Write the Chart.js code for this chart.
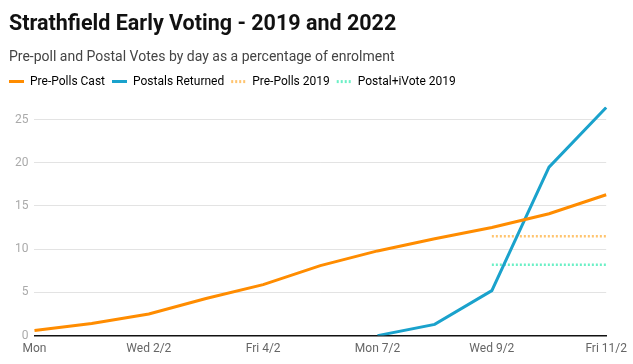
<!DOCTYPE html>
<html>
<head>
<meta charset="utf-8">
<script src="https://cdn.jsdelivr.net/npm/chart.js@4"></script>
<style>
  html, body { margin: 0; padding: 0; background: #fff; }
  #wrap { width: 633px; height: 364px; }
</style>
</head>
<body>
<div id="wrap"><canvas id="myChart"></canvas></div>
<script>
// days of the early voting period
const days = ["Mon", "Tue 1/2", "Wed 2/2", "Thu 3/2", "Fri 4/2", "Sat 5/2",
  "Mon 7/2", "Tue 8/2", "Wed 9/2", "Thu 10/2", "Fri 11/2"];

// percentage of enrolment
const prePollsCast = [0.6, 1.4, 2.5, 4.3, 5.9, 8.1, 9.8, 11.2, 12.5, 14.1, 16.3];
const postalsReturned = [null, null, null, null, null, null, 0, 1.3, 5.2, 19.5, 26.4];
const prePolls2019 = [null, null, null, null, null, null, null, null, 11.5, 11.5, 11.5];
const postalIvote2019 = [null, null, null, null, null, null, null, null, 8.2, 8.2, 8.2];

const yTicks = [0, 5, 10, 15, 20, 25];

const FONT = "Roboto, 'Noto Sans', sans-serif";

function makeSet(label, data, color, width, dash) {
  return {
    label: label,
    data: data,
    borderColor: color,
    backgroundColor: color,
    borderWidth: width,
    borderDash: dash,
    pointRadius: 0,
    pointHoverRadius: 0,
    tension: 0,
    spanGaps: false,
  };
}

const chartData = {
  labels: days,
  datasets: [
    makeSet("Pre-Polls Cast", prePollsCast, "#ff8c00", 3, []),
    makeSet("Postals Returned", postalsReturned, "#1aa2cc", 3, []),
    makeSet("Pre-Polls 2019", prePolls2019, "#ffc46e", 2.5, [2, 2]),
    makeSet("Postal+iVote 2019", postalIvote2019, "#6cf0c6", 2.5, [2, 2]),
  ],
};

// a bit of room under the legend, and legend pulled to the left edge
const legendTweak = {
  id: "legendTweak",
  beforeInit(chart) {
    const fit = chart.legend.fit;
    chart.legend.fit = function () {
      fit.bind(chart.legend)();
      this.height += 8;
    };
  },
  afterLayout(chart) {
    chart.legend.left -= 7;
    chart.legend.right -= 7;
    chart.legend.top -= 1;
  },
};

const config = {
  type: "line",
  data: chartData,
  options: {
    responsive: true,
    maintainAspectRatio: false,
    animation: false,
    layout: { padding: { left: 9, right: 16, bottom: 2 } },
    scales: {
      x: {
        grid: { display: false, drawTicks: false },
        border: { color: "#111", width: 1.5 },
        ticks: {
          color: "#666",
          font: { family: FONT, size: 12 },
          padding: 6,
          maxRotation: 0,
          autoSkip: true,
          callback: function (v, i) { return i % 2 === 0 ? days[i] : ""; },
        },
      },
      y: {
        min: 0,
        max: 26.5,
        grid: { color: "#e3e3e3", drawTicks: false },
        border: { display: false },
        afterBuildTicks: (axis) => {
          axis.ticks = yTicks.map((v) => ({ value: v }));
        },
        ticks: {
          color: "#aaa",
          font: { family: FONT, size: 12 },
          padding: 6,
        },
      },
    },
    plugins: {
      title: {
        display: true,
        text: "Strathfield Early Voting - 2019 and 2022",
        align: "start",
        color: "#111",
        font: { family: FONT, size: 21.5, weight: "bold" },
        padding: { top: 12, bottom: 11 },
      },
      subtitle: {
        display: true,
        text: "Pre-poll and Postal Votes by day as a percentage of enrolment",
        align: "start",
        color: "#444",
        font: { family: FONT, size: 14 },
        padding: { top: 0, bottom: 4 },
      },
      legend: {
        display: true,
        align: "start",
        labels: {
          usePointStyle: true,
          pointStyleWidth: 15,
          boxHeight: 12,
          padding: 7,
          color: "#444",
          font: { family: FONT, size: 12 },
          generateLabels: function (chart) {
            return chart.data.datasets.map((ds, i) => ({
              text: ds.label,
              strokeStyle: ds.borderColor,
              fillStyle: ds.borderColor,
              lineWidth: 3,
              lineDash: ds.borderDash,
              pointStyle: "line",
              hidden: false,
              datasetIndex: i,
            }));
          },
        },
      },
      tooltip: { enabled: false },
    },
  },
  plugins: [legendTweak],
};

new Chart(document.getElementById("myChart"), config);
</script>
</body>
</html>
